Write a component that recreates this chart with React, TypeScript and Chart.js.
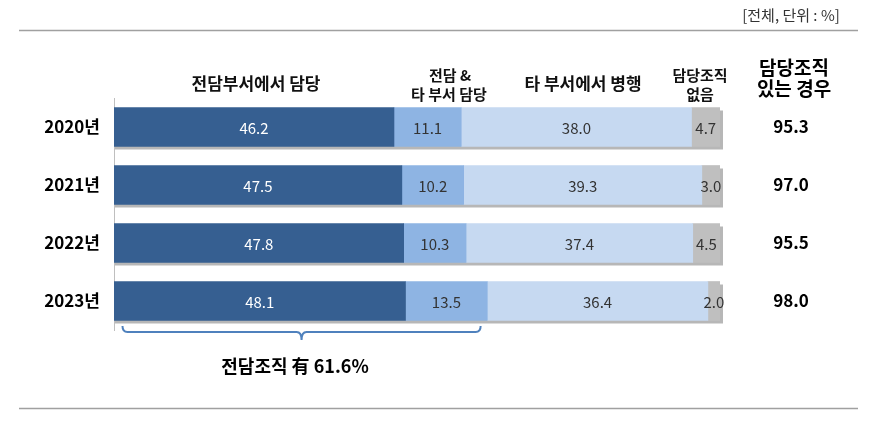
import React, { useEffect, useRef } from "react";
import { Chart, registerables } from "chart.js";

Chart.register(...registerables);

const categories = ["2020년", "2021년", "2022년", "2023년"];
const seriesNames = ["전담부서에서 담당", "전담 & 타 부서 담당", "타 부서에서 병행", "담당조직 없음"];
const dedicated = [46.2, 47.5, 47.8, 48.1];
const dedicatedAndOther = [11.1, 10.2, 10.3, 13.5];
const otherDept = [38.0, 39.3, 37.4, 36.4];
const noOrg = [4.7, 3.0, 4.5, 2.0];
const haveOrg = [95.3, 97.0, 95.5, 98.0];
const haveOrgTitle = ["담당조직", "있는 경우"];
const unitNote = "[전체, 단위 : %]";
const bracketLabel = "전담조직 有 61.6%";

const FONT = "'Noto Sans CJK KR', 'Noto Sans', sans-serif";
const colors = ["#365F91", "#8EB4E3", "#C6D9F1", "#BFBFBF"];
const labelColors = ["#FFFFFF", "#333333", "#333333", "#333333"];

const overlay = {
  id: "overlay",
  beforeDatasetsDraw(chart: any) {
    const ctx = chart.ctx;
    const first = chart.getDatasetMeta(0);
    const last = chart.getDatasetMeta(chart.data.datasets.length - 1);
    ctx.save();
    ctx.fillStyle = "rgba(165,165,165,0.8)";
    first.data.forEach((el: any, i: number) => {
      const endEl = last.data[i];
      const x0 = el.base;
      const x1 = endEl.x;
      const h = el.height;
      ctx.fillRect(x0 + 1, el.y - h / 2 + 3, x1 - x0 + 2, h);
    });
    ctx.restore();
  },
  afterDatasetsDraw(chart: any) {
    const ctx = chart.ctx;
    const xs = chart.scales.x;
    ctx.save();
    ctx.textAlign = "center";
    ctx.textBaseline = "middle";
    // value labels
    chart.data.datasets.forEach((ds: any, di: number) => {
      const meta = chart.getDatasetMeta(di);
      ctx.font = `15px ${FONT}`;
      ctx.fillStyle = labelColors[di];
      meta.data.forEach((el: any, i: number) => {
        const cx = (el.x + el.base) / 2;
        ctx.fillText(ds.data[i].toFixed(1), cx, el.y + 1);
      });
    });
    // right column values
    const meta0 = chart.getDatasetMeta(0);
    ctx.fillStyle = "#000000";
    ctx.font = `bold 17px ${FONT}`;
    meta0.data.forEach((el: any, i: number) => {
      ctx.fillText(haveOrg[i].toFixed(1), 791, el.y);
    });
    // headers
    ctx.fillStyle = "#111111";
    ctx.font = `bold 17px ${FONT}`;
    ctx.fillText(seriesNames[0], 256, 84);
    ctx.fillText(seriesNames[2], 583, 84);
    ctx.font = `bold 15px ${FONT}`;
    const n1 = seriesNames[1].split(" & ");
    ctx.fillText(n1[0] + " &", 450, 75);
    ctx.fillText(n1[1], 449, 94);
    const n3 = seriesNames[3].split(" ");
    ctx.fillText(n3[0], 700, 75);
    ctx.fillText(n3[1], 700, 94);
    ctx.fillStyle = "#000000";
    ctx.font = `bold 19px ${FONT}`;
    ctx.fillText(haveOrgTitle[0], 794, 68);
    ctx.fillText(haveOrgTitle[1], 794, 89);
    // unit note
    ctx.font = `15px ${FONT}`;
    ctx.fillStyle = "#333333";
    ctx.fillText(unitNote, 791, 15);
    // horizontal rules
    ctx.strokeStyle = "#A0A0A0";
    ctx.lineWidth = 1.5;
    ctx.beginPath();
    ctx.moveTo(19, 30.5);
    ctx.lineTo(858, 30.5);
    ctx.moveTo(19, 408.5);
    ctx.lineTo(858, 408.5);
    ctx.stroke();
    // bracket
    const bx0 = xs.getPixelForValue(1.4);
    const bx1 = xs.getPixelForValue(dedicated[3] + dedicatedAndOther[3] - 1.1);
    const bm = (bx0 + bx1) / 2;
    const yt = 326, ym = 332, yb = 340, r = 5;
    ctx.strokeStyle = "#4F81BD";
    ctx.lineWidth = 2;
    ctx.beginPath();
    ctx.moveTo(bx0, yt);
    ctx.quadraticCurveTo(bx0, ym, bx0 + r, ym);
    ctx.lineTo(bm - r, ym);
    ctx.quadraticCurveTo(bm, ym, bm, yb);
    ctx.quadraticCurveTo(bm, ym, bm + r, ym);
    ctx.lineTo(bx1 - r, ym);
    ctx.quadraticCurveTo(bx1, ym, bx1, yt);
    ctx.stroke();
    ctx.fillStyle = "#000000";
    ctx.font = `bold 18px ${FONT}`;
    ctx.fillText(bracketLabel, 295, 366);
    ctx.restore();
  },
};

export default function App() {
  const ref = useRef<HTMLCanvasElement>(null);
  useEffect(() => {
    if (!ref.current) return;
    const all = [dedicated, dedicatedAndOther, otherDept, noOrg];
    const chart = new Chart(ref.current, {
      type: "bar",
      data: {
        labels: categories,
        datasets: all.map((d, i) => ({
          label: seriesNames[i],
          data: d,
          backgroundColor: colors[i],
          borderWidth: 0,
          barThickness: 39,
        })),
      },
      options: {
        indexAxis: "y",
        responsive: false,
        animation: false,
        events: [],
        layout: { padding: { left: 0, right: 150, top: 98, bottom: 97 } },
        plugins: { legend: { display: false }, tooltip: { enabled: false } },
        scales: {
          x: { stacked: true, min: 0, max: 100, display: false },
          y: {
            stacked: true,
            afterFit: (s: any) => {
              s.width = 114;
            },
            grid: { display: false, drawTicks: false },
            border: { display: true, color: "#BFBFBF", width: 1 },
            ticks: {
              padding: 14,
              color: "#000000",
              font: { family: FONT, size: 17, weight: "bold" },
            },
          },
        },
      },
      plugins: [overlay],
    });
    return () => chart.destroy();
  }, []);
  return (
    <div style={{ position: "absolute", left: 0, top: 0, width: 870, height: 427, background: "#fff" }}>
      <canvas ref={ref} width={870} height={427} style={{ width: 870, height: 427 }} />
    </div>
  );
}
